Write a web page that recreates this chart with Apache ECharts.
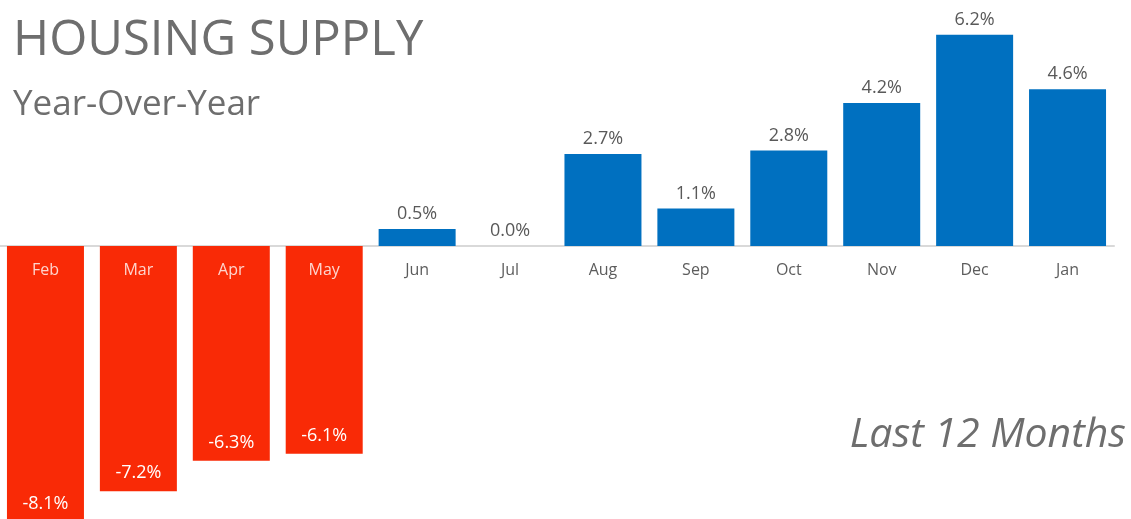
<!DOCTYPE html>
<html>
<head>
<meta charset="utf-8">
<script src="https://cdn.jsdelivr.net/npm/echarts@6/dist/echarts.min.js"></script>
<style>
  html, body { margin: 0; padding: 0; background: #fff; }
  #chart { width: 1131px; height: 519px; }
</style>
</head>
<body>
<div id="chart"></div>
<script>
// Data
const months = ['Feb', 'Mar', 'Apr', 'May', 'Jun', 'Jul', 'Aug', 'Sep', 'Oct', 'Nov', 'Dec', 'Jan']
const supplyChange = [-8.1, -7.2, -6.3, -6.1, 0.5, 0.0, 2.7, 1.1, 2.8, 4.2, 6.2, 4.6]

// Variables
const RED = '#F92A06'
const BLUE = '#0070C0'
const GRAY = '#6E6E6E'
const FONT = '"Open Sans", sans-serif'

const chart = echarts.init(document.getElementById('chart'))

chart.setOption({
  animation: false,
  title: [
    { text: 'HOUSING SUPPLY', left: 8, top: 12, textStyle: { fontFamily: FONT, fontWeight: 'normal', fontSize: 49, color: GRAY } },
    { text: 'Year-Over-Year', left: 8, top: 83, textStyle: { fontFamily: FONT, fontWeight: 'normal', fontSize: 35, color: GRAY } },
    { text: 'Last 12 Months', right: 0, top: 410, textStyle: { fontFamily: FONT, fontWeight: 'normal', fontStyle: 'italic', fontSize: 41, color: GRAY } },
  ],
  grid: { left: -1, top: 0, width: 1115, height: 522, containLabel: false, outerBoundsMode: 'none' },
  xAxis: {
    type: 'category',
    data: months,
    axisLine: { onZero: true, lineStyle: { color: '#D9D9D9', width: 2 } },
    axisTick: { show: false },
    axisLabel: { show: false },
  },
  yAxis: {
    type: 'value',
    min: -8.1,
    max: 7.22,
    show: false,
    splitLine: { show: false },
  },
  series: [
    {
      type: 'bar',
      barWidth: 77,
      clip: false,
      data: supplyChange.map(v => ({
        value: v,
        itemStyle: { color: v < 0 ? RED : BLUE },
        label: v < 0
          ? { show: true, position: 'insideBottom', distance: 9, color: '#fff' }
          : { show: true, position: 'top', distance: 6, color: '#595959' },
      })),
      label: {
        fontFamily: FONT,
        fontSize: 18,
        formatter: p => p.value.toFixed(1) + '%',
      },
    },
    {
      // month names along the zero line
      type: 'scatter',
      symbolSize: 0,
      silent: true,
      z: 10,
      data: months.map((m, i) => ({
        value: [m, 0],
        label: { color: supplyChange[i] < 0 ? '#ffffff' : '#333333' },
      })),
      label: {
        show: true,
        position: 'bottom',
        distance: 16,
        fontFamily: FONT,
        fontSize: 16,
        formatter: p => p.value[0],
      },
    },
  ],
})
</script>
</body>
</html>
